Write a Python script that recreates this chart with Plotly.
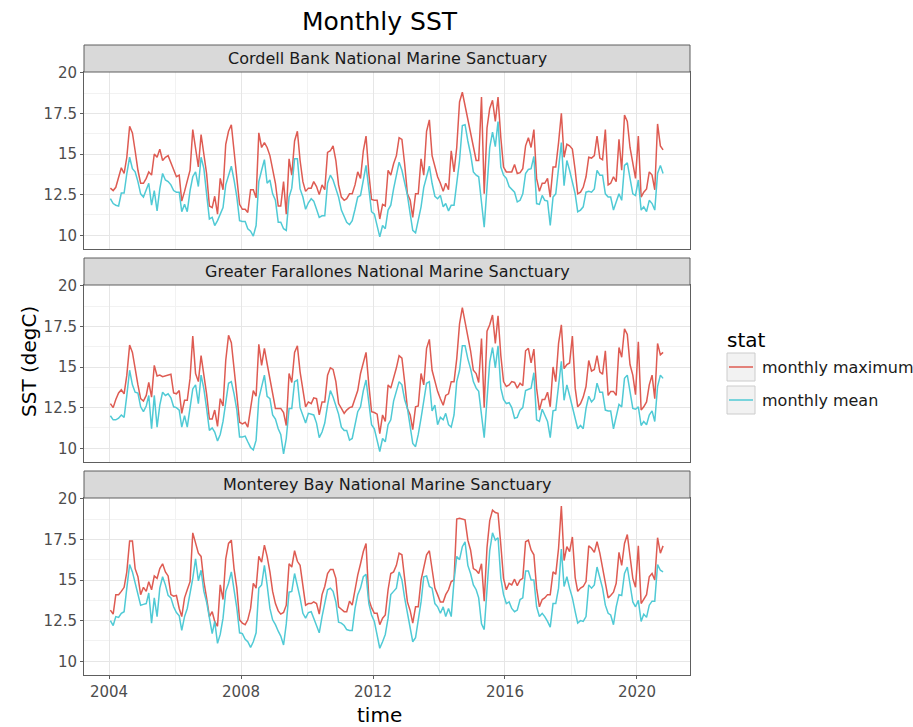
import pandas as pd
import plotly.graph_objects as go

# ---------------- data ----------------
sanctuaries = [
    "Cordell Bank National Marine Sanctuary",
    "Greater Farallones National Marine Sanctuary",
    "Monterey Bay National Marine Sanctuary",
]
stats = ["monthly maximum", "monthly mean"]
months = pd.date_range("2004-01-01", periods=202, freq="MS") + pd.Timedelta(days=15)

cb_max = [
    12.9, 12.75, 12.95, 13.5, 14.15, 13.8, 14.8, 16.7, 16.3, 15.2, 14.0, 13.2,
    13.2, 13.5, 13.9, 13.7, 15.0, 14.8, 15.3, 14.6, 14.8, 14.9, 14.5, 14.1,
    13.6, 13.7, 12.1, 12.7, 13.4, 14.0, 16.5, 15.4, 14.2, 16.2, 15.0, 13.8,
    11.8, 11.7, 12.4, 11.3, 13.5, 12.8, 15.6, 16.4, 16.8, 15.2, 13.6, 11.9,
    11.6, 11.6, 11.4, 12.8, 12.8, 12.3, 16.3, 15.4, 15.7, 15.4, 14.9, 14.1,
    13.2, 11.8, 11.8, 13.3, 11.3, 14.7, 13.7, 15.8, 16.4, 14.6, 13.3, 12.7,
    12.9, 12.9, 13.3, 13.0, 12.5, 13.1, 12.8, 15.1, 15.2, 15.5, 14.6, 13.1,
    12.35, 12.15, 12.25, 12.55, 12.55, 13.1, 13.9, 13.5, 15.2, 16.1, 13.8, 12.2,
    12.15, 12.15, 11.0, 11.9, 11.8, 14.0, 13.7, 14.4, 14.9, 16.0, 15.9, 14.4,
    12.55, 12.15, 11.1, 12.55, 12.55, 14.7, 13.7, 16.4, 17.1, 14.9, 14.2, 13.6,
    13.2, 12.7, 13.2, 12.8, 15.2, 13.9, 15.4, 18.2, 18.8, 18.0, 17.1, 16.2,
    15.4, 14.6, 14.6, 18.5, 12.55, 16.6, 17.8, 18.3, 17.0, 18.5, 16.0, 14.2,
    13.9, 13.9, 13.9, 14.35, 13.8, 13.85, 14.1, 15.5, 16.0, 15.4, 16.5, 13.5,
    12.7, 13.2, 13.2, 13.5, 12.35, 14.2, 14.2, 15.7, 17.5, 14.8, 15.6, 15.5,
    15.3, 14.0, 12.55, 12.65, 12.95, 13.6, 14.8, 14.75, 14.9, 16.1, 14.75, 14.65,
    16.5, 13.1, 13.2, 13.6, 13.3, 15.9, 14.0, 17.4, 17.0, 15.4, 14.3, 13.5,
    16.1, 12.35, 12.65, 12.85, 13.9, 13.7, 12.8, 16.85, 15.5, 15.25,
]
cb_mean = [
    12.25, 11.95, 11.85, 11.8, 12.6, 12.6, 13.8, 14.8, 14.1, 13.9, 13.3, 12.55,
    12.35, 12.85, 13.2, 11.85, 12.75, 11.5, 12.85, 13.8, 13.4, 13.3, 13.1, 12.75,
    12.65, 12.65, 11.45, 11.9, 11.45, 12.75, 13.6, 13.9, 13.0, 14.8, 14.1, 12.55,
    11.0, 11.1, 10.6, 10.9, 11.3, 11.7, 13.1, 13.7, 14.25, 13.4, 12.35, 10.9,
    10.85, 10.85, 10.4, 10.25, 9.95, 10.6, 13.3, 14.0, 14.65, 13.2, 13.4, 12.55,
    12.15, 10.8, 10.8, 10.4, 10.3, 12.35, 12.9, 14.7, 14.7, 12.85, 12.35, 11.6,
    12.0, 12.25, 12.1, 11.6, 11.1, 11.2, 11.2, 13.2, 13.7, 13.4, 12.85, 12.35,
    11.55, 11.1, 10.8, 10.65, 10.9, 11.6, 12.35, 12.45, 13.4, 14.3, 12.85, 11.45,
    11.3, 10.5, 9.9, 10.6, 10.4, 11.55, 11.85, 12.85, 13.7, 14.5, 14.0, 13.2,
    12.45, 11.3, 10.3, 10.15, 10.9, 11.75, 12.95, 13.6, 14.25, 13.2, 12.4, 12.25,
    12.45, 11.75, 11.95, 11.5, 11.85, 11.85, 13.4, 14.6, 16.75, 16.8, 15.8, 15.0,
    13.9, 13.7, 13.6, 12.15, 10.5, 12.95, 15.4, 16.35, 15.45, 17.0, 14.2, 13.7,
    13.5, 13.0, 12.85, 12.65, 12.05, 12.15, 12.55, 13.8, 14.05, 14.1, 14.85, 11.95,
    11.9, 12.45, 12.15, 12.1, 10.6, 12.35, 12.55, 14.1, 15.7, 13.05, 14.6, 14.0,
    13.3, 12.55, 11.45, 11.55, 11.75, 12.65, 12.7, 12.65, 12.85, 14.0, 13.7, 13.7,
    12.55, 12.35, 12.35, 11.55, 12.05, 12.55, 12.15, 14.3, 14.45, 13.6, 12.55, 12.45,
    13.4, 11.55, 11.75, 11.45, 12.15, 11.95, 11.55, 13.8, 14.3, 13.8,
]
gf_max = [
    12.75, 12.5, 13.0, 13.4, 13.6, 13.35, 14.5, 16.35, 15.9, 14.8, 13.9, 13.05,
    12.9, 13.25, 14.05, 13.15, 15.1, 14.45, 14.5, 14.4, 14.45, 14.5, 14.55, 13.4,
    13.35, 13.55, 12.15, 12.95, 12.95, 14.3, 16.9, 14.6, 14.1, 15.7, 14.6, 13.35,
    11.8, 11.8, 12.35, 11.35, 13.05, 12.6, 15.4, 16.95, 16.5, 14.7, 13.25, 11.6,
    11.5, 11.6, 11.3, 12.45, 13.55, 13.2, 16.4, 15.1, 16.15, 15.2, 14.3, 13.25,
    12.45, 12.45, 12.45, 12.2, 11.4, 14.6, 14.05, 15.9, 16.3, 14.7, 13.55, 12.55,
    12.85, 12.75, 13.1, 13.05, 12.05, 12.85, 12.85, 14.5, 14.95, 14.85, 14.1, 12.75,
    12.45, 12.15, 12.35, 12.5, 12.55, 13.05, 13.55, 14.6, 15.25, 15.9, 13.9, 12.25,
    12.2, 12.1, 10.9, 12.05, 11.65, 13.9, 13.7, 14.3, 14.95, 15.7, 15.55, 14.1,
    12.45, 12.05, 11.15, 12.55, 12.6, 14.6, 13.9, 16.15, 16.7, 14.8, 14.1, 13.5,
    13.05, 12.65, 13.25, 13.35, 14.1, 14.1, 15.5, 17.65, 18.65, 17.75, 16.95, 16.0,
    14.8, 14.6, 14.05, 16.75, 12.5, 17.2, 17.6, 18.2, 16.45, 18.15, 15.7, 14.1,
    13.8, 13.9, 14.1, 14.05, 13.7, 14.0, 13.85, 16.0, 16.15, 15.25, 16.1, 13.7,
    12.35, 13.0, 13.0, 13.45, 12.55, 15.0, 14.1, 16.45, 17.6, 14.9, 15.15, 15.25,
    16.9, 13.7, 12.55, 12.75, 13.15, 13.8, 15.4, 14.75, 14.85, 15.7, 14.7, 14.55,
    16.0, 13.25, 13.5, 13.5, 13.25, 16.2, 15.6, 17.35, 17.0, 15.15, 14.5, 13.3,
    16.55, 12.35, 12.55, 12.85, 13.9, 14.5, 13.05, 16.45, 15.75, 15.9,
]
gf_mean = [
    12.0, 11.75, 11.75, 11.85, 12.05, 11.9, 13.25, 14.8, 13.9, 13.45, 13.4, 12.55,
    12.25, 12.6, 13.25, 11.2, 13.25, 11.3, 12.65, 13.45, 13.25, 13.35, 13.1, 12.55,
    12.5, 12.35, 11.3, 12.0, 11.3, 12.55, 13.65, 13.9, 12.75, 14.5, 13.65, 12.45,
    11.1, 11.25, 11.0, 10.45, 10.85, 11.65, 12.95, 14.0, 14.1, 13.35, 12.35, 10.7,
    10.7, 10.75, 10.4, 10.05, 9.9, 10.5, 13.05, 13.7, 14.5, 13.2, 13.05, 12.05,
    11.8, 11.2, 10.85, 9.65, 10.6, 12.45, 12.45, 14.1, 14.2, 12.5, 12.05, 11.55,
    12.15, 12.1, 12.05, 11.55, 10.65, 11.0, 11.55, 12.65, 13.55, 13.15, 12.65, 12.1,
    11.3, 11.1, 11.1, 10.5, 10.6, 11.45, 12.25, 12.55, 13.55, 14.2, 12.75, 11.45,
    11.2, 10.4, 9.8, 10.6, 10.4, 11.45, 11.75, 12.9, 13.45, 14.1, 13.9, 13.0,
    12.45, 11.45, 10.3, 10.1, 10.85, 11.85, 12.9, 14.0, 14.1, 12.3, 12.65, 11.45,
    11.9, 11.75, 12.15, 11.45, 11.3, 12.05, 14.1, 14.8, 16.3, 16.3, 15.5, 14.9,
    14.1, 13.7, 13.5, 11.85, 10.65, 13.0, 15.3, 16.2, 14.95, 16.3, 13.7, 13.0,
    12.75, 12.8, 12.5, 11.85, 11.9, 12.35, 12.5, 13.55, 13.65, 13.7, 14.65, 11.75,
    11.65, 12.4, 12.05, 11.65, 10.65, 12.3, 12.35, 13.9, 15.35, 12.95, 13.9, 13.25,
    12.55, 11.75, 11.2, 11.4, 11.2, 12.45, 13.2, 12.85, 13.05, 14.0, 13.45, 13.45,
    12.35, 12.3, 12.3, 11.2, 12.05, 12.7, 12.55, 14.3, 14.5, 13.45, 12.45, 12.4,
    12.55, 11.4, 11.65, 11.45, 12.05, 12.3, 11.65, 13.8, 14.5, 14.3,
]
mb_max = [
    13.15, 12.9, 14.1, 14.1, 14.3, 14.55, 15.5, 17.4, 17.4, 15.7, 15.2, 14.1,
    14.55, 14.3, 14.9, 14.4, 15.25, 15.1, 15.7, 16.0, 15.5, 15.25, 14.1, 14.0,
    14.05, 13.25, 12.75, 13.9, 14.4, 14.9, 17.9, 17.35, 16.65, 16.45, 14.9, 13.9,
    12.75, 13.05, 12.45, 12.15, 14.7, 13.8, 16.3, 17.25, 17.45, 15.7, 14.5, 12.55,
    12.35, 12.25, 12.55, 13.25, 14.8, 14.5, 16.45, 16.1, 17.15, 16.45, 15.5, 14.3,
    13.55, 13.1, 12.9, 13.0, 13.45, 16.0, 15.8, 16.8, 16.15, 15.9, 14.7, 13.45,
    13.55, 13.55, 13.65, 13.55, 12.9, 14.1, 14.6, 15.4, 15.65, 15.65, 15.1, 13.35,
    13.2, 13.05, 13.05, 13.7, 13.45, 14.5, 15.3, 16.0, 16.75, 17.25, 13.8, 13.3,
    12.95, 12.95, 12.25, 12.65, 12.85, 14.4, 15.4, 15.5, 15.9, 16.65, 16.55, 15.1,
    13.65, 13.1, 12.35, 13.35, 13.35, 15.0, 15.7, 16.55, 16.8, 15.8, 14.5, 14.1,
    13.65, 13.65, 14.1, 14.4, 14.9, 15.0, 18.75, 18.8, 18.75, 18.7, 17.45, 16.85,
    15.7, 15.6, 15.4, 16.0, 13.7, 17.0, 18.65, 19.3, 19.15, 19.1, 17.15, 15.1,
    14.4, 14.8, 14.7, 15.05, 14.65, 15.0, 15.1, 17.35, 17.45, 16.85, 16.55, 14.5,
    13.35, 13.8, 13.9, 14.1, 14.1, 15.5, 15.35, 16.95, 19.55, 16.2, 17.05, 16.75,
    17.65, 15.15, 14.3, 14.5, 14.6, 14.9, 17.1, 16.95, 16.7, 17.35, 16.65, 15.8,
    14.7, 13.9, 14.05, 14.25, 14.8, 16.7, 15.9, 17.25, 17.8, 16.3, 15.1, 14.55,
    17.1, 13.55, 13.8, 14.1, 15.2, 15.4, 15.0, 17.6, 16.65, 17.1,
]
mb_mean = [
    12.5, 12.2, 12.75, 12.7, 12.95, 13.05, 14.5, 15.95, 15.5, 14.8, 14.1, 13.45,
    13.5, 13.55, 14.2, 12.35, 13.9, 12.75, 14.5, 15.2, 14.7, 14.05, 13.9, 13.35,
    13.0, 12.8, 11.9, 12.75, 13.25, 14.1, 15.1, 16.3, 14.95, 15.6, 14.3, 13.65,
    12.55, 11.7, 12.45, 11.1, 11.65, 12.65, 14.3, 14.8, 15.5, 14.5, 13.25, 11.75,
    11.7, 11.35, 11.2, 10.85, 11.2, 11.75, 14.5, 14.7, 15.9, 14.7, 13.25, 12.55,
    12.25, 11.85, 11.55, 11.0, 12.3, 14.25, 14.3, 15.4, 14.7, 13.9, 12.95, 12.65,
    13.0, 13.05, 12.65, 12.25, 11.75, 12.75, 13.65, 14.4, 14.5, 14.3, 13.65, 12.4,
    12.35, 12.2, 11.95, 11.9, 11.9, 13.25, 14.1, 14.5, 15.2, 15.35, 13.55, 12.85,
    12.45, 11.65, 10.8, 11.2, 11.65, 12.65, 14.1, 14.3, 14.5, 15.5, 15.0, 13.9,
    12.95, 12.25, 11.2, 11.45, 12.45, 13.65, 15.2, 15.25, 14.6, 14.5, 13.55, 13.35,
    12.95, 13.35, 12.75, 13.25, 12.75, 14.95, 16.45, 16.25, 17.05, 17.35, 15.9, 15.4,
    14.7, 14.4, 13.9, 12.3, 11.95, 14.3, 16.8, 17.9, 17.45, 17.6, 15.1, 14.1,
    13.55, 13.65, 13.25, 13.05, 13.15, 13.8, 13.9, 15.55, 15.55, 15.0, 15.0, 13.35,
    12.75, 12.95, 12.75, 12.45, 12.1, 13.55, 13.55, 14.5, 16.9, 14.6, 15.2, 14.5,
    13.9, 13.05, 12.35, 12.5, 12.45, 12.75, 14.7, 14.5, 14.7, 15.8, 15.2, 14.5,
    13.45, 12.95, 12.85, 12.25, 13.35, 14.1, 14.05, 15.4, 15.8, 14.8, 13.65, 13.35,
    13.75, 12.45, 12.9, 12.7, 13.45, 13.7, 13.7, 15.95, 15.6, 15.5,
]

series = [(cb_max, cb_mean), (gf_max, gf_mean), (mb_max, mb_mean)]
x_ticks = ["2004", "2008", "2012", "2016", "2020"]
y_ticks = [10, 12.5, 15, 17.5, 20]

# ---------------- styling / layout ----------------
W, H = 913, 727
L, R, T, B = 84, 223, 45, 52
PW, PH = W - L - R, H - T - B
FONT = "DejaVu Sans"
RED, CYAN = "#DE5B52", "#50CAD5"
BORDER = "#5E5E5E"
GRID, MINOR = "#E6E6E6", "#F2F2F2"


def px2x(px):
    return (px - L) / PW


def px2y(py):
    return (H - B - py) / PH


panels = [(72, 249, 45), (285, 462, 258), (498, 675, 471)]  # top, bottom, strip top

fig = go.Figure()
for i, (vmax, vmean) in enumerate(series):
    sfx = "" if i == 0 else str(i + 1)
    for vals, col, name in [(vmax, RED, stats[0]), (vmean, CYAN, stats[1])]:
        fig.add_trace(go.Scatter(
            x=months, y=vals, mode="lines", name=name,
            line=dict(color=col, width=1.5), showlegend=False,
            xaxis="x" + sfx, yaxis="y" + sfx,
        ))

layout = dict(
    width=W, height=H,
    margin=dict(l=L, r=R, t=T, b=B),
    paper_bgcolor="white", plot_bgcolor="white",
    font=dict(family=FONT, color="#1A1A1A"),
    showlegend=False,
)

xr = ["2003-03-30", "2021-08-10"]
for i, (top, bot, stop) in enumerate(panels):
    sfx = "" if i == 0 else str(i + 1)
    last = i == 2
    layout["xaxis" + sfx] = dict(
        type="date", range=xr, anchor="y" + sfx,
        matches=None if i == 0 else "x",
        tickmode="array", tickvals=[f"{t}-01-01" for t in x_ticks], ticktext=x_ticks,
        showticklabels=last, ticks="outside" if last else "", ticklen=3,
        tickcolor=BORDER, tickfont=dict(size=15, color="#4D4D4D"),
        showgrid=True, gridcolor=GRID, gridwidth=1.2,
        minor=dict(tickvals=["2006-01-01", "2010-01-01", "2014-01-01", "2018-01-01"],
                   showgrid=True, gridcolor=MINOR, gridwidth=0.7),
        showline=True, mirror=True, linecolor=BORDER, linewidth=1,
        zeroline=False,
    )
    layout["yaxis" + sfx] = dict(
        domain=[px2y(bot), px2y(top)], anchor="x" + sfx,
        range=[9.155, 20.045],
        tickmode="array", tickvals=y_ticks, ticktext=[f"{v:g}" for v in y_ticks],
        ticks="outside", ticklen=3, tickcolor=BORDER,
        tickfont=dict(size=15, color="#4D4D4D"),
        showgrid=True, gridcolor=GRID, gridwidth=1.2,
        minor=dict(tickvals=[11.25, 13.75, 16.25, 18.75], showgrid=True,
                   gridcolor=MINOR, gridwidth=0.7),
        showline=True, mirror=True, linecolor=BORDER, linewidth=1,
        zeroline=False,
    )

shapes, annotations = [], []
for i, (top, bot, stop) in enumerate(panels):
    shapes.append(dict(type="rect", xref="paper", yref="paper",
                       x0=0, x1=1, y0=px2y(top), y1=px2y(stop),
                       fillcolor="#D9D9D9", line=dict(color=BORDER, width=1)))
    annotations.append(dict(text=sanctuaries[i], xref="paper", yref="paper",
                            x=0.5, y=px2y((top + stop) / 2), showarrow=False,
                            xanchor="center", yanchor="middle",
                            font=dict(size=16, color="#1A1A1A")))

# titles
annotations.append(dict(text="Monthly SST", xref="paper", yref="paper",
                        x=px2x(380), y=px2y(22), showarrow=False,
                        xanchor="center", yanchor="middle",
                        font=dict(size=25, color="black")))
annotations.append(dict(text="time", xref="paper", yref="paper",
                        x=px2x(379), y=px2y(715), showarrow=False,
                        xanchor="center", yanchor="middle",
                        font=dict(size=20, color="black")))
annotations.append(dict(text="SST (degC)", xref="paper", yref="paper",
                        x=px2x(29), y=px2y(362), showarrow=False, textangle=-90,
                        xanchor="center", yanchor="middle",
                        font=dict(size=20, color="black")))

# legend (drawn)
annotations.append(dict(text="stat", xref="paper", yref="paper",
                        x=px2x(725), y=px2y(340), showarrow=False,
                        xanchor="left", yanchor="middle",
                        font=dict(size=20, color="black")))
for j, (col, lab) in enumerate([(RED, stats[0]), (CYAN, stats[1])]):
    y0, y1 = 353 + j * 33, 381 + j * 33
    yc = (y0 + y1) / 2
    shapes.append(dict(type="rect", xref="paper", yref="paper",
                       x0=px2x(727), x1=px2x(755), y0=px2y(y1), y1=px2y(y0),
                       fillcolor="#F2F2F2", line=dict(color="#CCCCCC", width=1)))
    shapes.append(dict(type="line", xref="paper", yref="paper",
                       x0=px2x(729), x1=px2x(753), y0=px2y(yc), y1=px2y(yc),
                       line=dict(color=col, width=1.5)))
    annotations.append(dict(text=lab, xref="paper", yref="paper",
                            x=px2x(760), y=px2y(yc), showarrow=False,
                            xanchor="left", yanchor="middle",
                            font=dict(size=16, color="#1A1A1A")))

layout["shapes"] = shapes
layout["annotations"] = annotations
fig.update_layout(**layout)
fig.write_html("out.html",
               config={"displayModeBar": False},
               post_script="document.body.style.margin='0';document.body.style.overflow='hidden';")
